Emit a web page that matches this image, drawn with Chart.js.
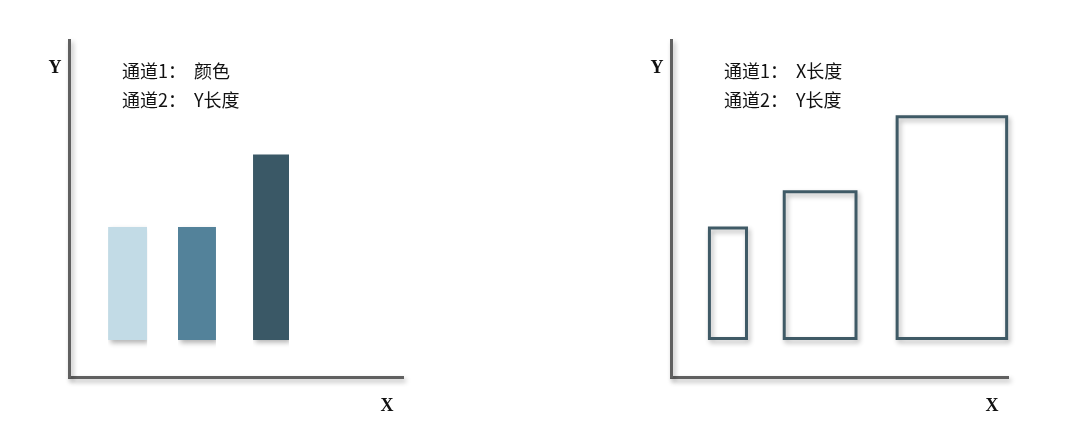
<!DOCTYPE html>
<html>
<head>
<meta charset="utf-8">
<script src="https://cdn.jsdelivr.net/npm/chart.js@4.4.1/dist/chart.umd.min.js"></script>
<style>
  html, body { margin: 0; padding: 0; background: #fff; }
  .wrap { position: relative; width: 1080px; height: 444px; }
  .panel { position: absolute; top: 0; width: 540px; height: 444px; }
</style>
</head>
<body>
<div class="wrap">
  <div class="panel" style="left:0"><canvas id="leftChart" width="540" height="444"></canvas></div>
  <div class="panel" style="left:540px"><canvas id="rightChart" width="540" height="444"></canvas></div>
</div>
<script>
// left panel: channel 1 = colour, channel 2 = Y length
const leftStart = [11.7, 32.6, 55.1];
const leftEnd = [23.4, 44.0, 65.9];
const leftBase = [11, 11, 11];
const leftTop = [44.5, 44.5, 66];
const leftColors = ["#c2dbe6", "#53829a", "#3a5866"];
const leftNotes = ["通道1：  颜色", "通道2：  Y长度"];

// right panel: channel 1 = X length, channel 2 = Y length
const rightStart = [11.4, 33.6, 67.1];
const rightEnd = [22.4, 54.9, 99.6];
const rightBase = [11.4, 11.4, 11.4];
const rightTop = [44.2, 55.0, 77.2];
const rightColor = "#3f5a66";
const rightNotes = ["通道1：  X长度", "通道2：  Y长度"];

const axisLabels = ["X", "Y"];

Chart.defaults.animation = false;

// soft drop shadow on everything drawn by the chart, like the original
const shadowPlugin = {
  id: "shadow",
  beforeDraw(chart) {
    const ctx = chart.ctx;
    ctx.save();
    ctx.shadowColor = "rgba(0,0,0,0.3)";
    ctx.shadowBlur = 5;
    ctx.shadowOffsetX = 2;
    ctx.shadowOffsetY = 3;
  },
  afterDraw(chart) {
    chart.ctx.restore();
  },
};

const labelPlugin = (notes, noteX) => ({
  id: "labels",
  afterDraw(chart) {
    const ctx = chart.ctx;
    const area = chart.chartArea;
    ctx.save();
    ctx.fillStyle = "#111";
    ctx.textBaseline = "middle";
    ctx.font = "bold 18px 'Liberation Serif', 'DejaVu Serif', serif";
    ctx.textAlign = "center";
    ctx.fillText(axisLabels[1], area.left - 14, 68);
    ctx.fillText(axisLabels[0], area.right - 16, 406);
    ctx.textAlign = "left";
    ctx.font = "18px 'Noto Sans CJK SC', sans-serif";
    notes.forEach((t, i) => ctx.fillText(t, noteX, 71 + i * 29));
    ctx.restore();
  },
});

const scales = {
  x: {
    type: "linear", min: 0, max: 100,
    grid: { display: false, drawTicks: false },
    ticks: { display: false },
    border: { display: true, color: "#606060", width: 3 },
  },
  y: {
    type: "linear", min: 0, max: 100,
    grid: { display: false, drawTicks: false },
    ticks: { display: false },
    border: { display: true, color: "#606060", width: 3 },
  },
};

// filled bars: top edge line filled down to the base value
const leftDatasets = leftStart.map((x0, i) => ({
  data: [{ x: x0, y: leftTop[i] }, { x: leftEnd[i], y: leftTop[i] }],
  borderWidth: 0,
  pointRadius: 0,
  backgroundColor: leftColors[i],
  fill: { value: leftBase[i] },
  clip: false,
}));

// outlined boxes: closed path round each rectangle
const rightDatasets = rightStart.map((x0, i) => ({
  data: [
    { x: x0, y: rightBase[i] },
    { x: x0, y: rightTop[i] },
    { x: rightEnd[i], y: rightTop[i] },
    { x: rightEnd[i], y: rightBase[i] },
    { x: x0, y: rightBase[i] },
  ],
  borderColor: rightColor,
  borderWidth: 3,
  borderJoinStyle: "miter",
  borderCapStyle: "square",
  pointRadius: 0,
  fill: false,
  tension: 0,
  clip: false,
}));

const commonOptions = (pad) => ({
  responsive: false,
  layout: { padding: pad },
  plugins: { legend: { display: false }, tooltip: { enabled: false } },
  scales: scales,
});

new Chart(document.getElementById("leftChart").getContext("2d"), {
  type: "line",
  data: { datasets: leftDatasets },
  options: commonOptions({ left: 69, right: 137, top: 40, bottom: 67 }),
  plugins: [shadowPlugin, labelPlugin(leftNotes, 122)],
});

new Chart(document.getElementById("rightChart").getContext("2d"), {
  type: "line",
  data: { datasets: rightDatasets },
  options: commonOptions({ left: 131, right: 72, top: 40, bottom: 67 }),
  plugins: [shadowPlugin, labelPlugin(rightNotes, 184)],
});
</script>
</body>
</html>
